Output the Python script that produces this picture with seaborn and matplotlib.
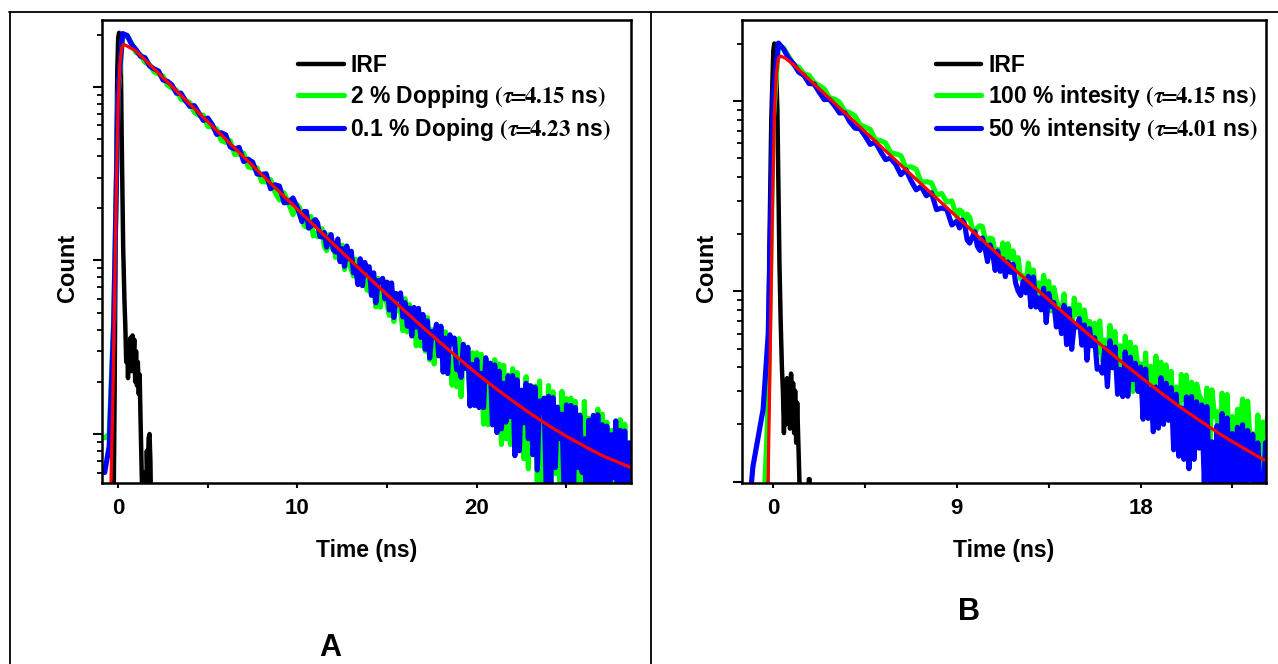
import matplotlib
matplotlib.use("Agg")
import matplotlib.pyplot as plt
import seaborn as sns
from matplotlib.lines import Line2D
from matplotlib.ticker import LogLocator, NullFormatter, MultipleLocator, FixedLocator

# ---------------- Panel A data (time in ns, counts) ----------------
time_a = [-0.75, -0.5, -0.25, 0.0, 0.25, 0.5, 0.75,
          1.0, 1.25, 1.5, 1.75, 2.0, 2.25, 2.5, 2.75, 3.0, 3.25, 3.5, 3.75,
          4.0, 4.25, 4.5, 4.75, 5.0, 5.25, 5.5, 5.75, 6.0, 6.25, 6.5, 6.75,
          7.0, 7.25, 7.5, 7.75, 8.0, 8.25, 8.5, 8.75, 9.0, 9.25, 9.5, 9.75,
          10.0, 10.125, 10.25, 10.375, 10.5, 10.625, 10.75, 10.875,
          11.0, 11.125, 11.25, 11.375, 11.5, 11.625, 11.75, 11.875,
          12.0, 12.125, 12.25, 12.375, 12.5, 12.625, 12.75, 12.875,
          13.0, 13.125, 13.25, 13.375, 13.5, 13.625, 13.75, 13.875,
          14.0, 14.125, 14.25, 14.375, 14.5, 14.625, 14.75, 14.875,
          15.0, 15.125, 15.25, 15.375, 15.5, 15.625, 15.75, 15.875,
          16.0, 16.125, 16.25, 16.375, 16.5, 16.625, 16.75, 16.875,
          17.0, 17.125, 17.25, 17.375, 17.5, 17.625, 17.75, 17.875,
          18.0, 18.125, 18.25, 18.375, 18.5, 18.625, 18.75, 18.875,
          19.0, 19.125, 19.25, 19.375, 19.5, 19.625, 19.75, 19.875,
          20.0, 20.125, 20.25, 20.375, 20.5, 20.625, 20.75, 20.875,
          21.0, 21.125, 21.25, 21.375, 21.5, 21.625, 21.75, 21.875,
          22.0, 22.125, 22.25, 22.375, 22.5, 22.625, 22.75, 22.875,
          23.0, 23.125, 23.25, 23.375, 23.5, 23.625, 23.75, 23.875,
          24.0, 24.125, 24.25, 24.375, 24.5, 24.625, 24.75, 24.875,
          25.0, 25.125, 25.25, 25.375, 25.5, 25.625, 25.75, 25.875,
          26.0, 26.125, 26.25, 26.375, 26.5, 26.625, 26.75, 26.875,
          27.0, 27.125, 27.25, 27.375, 27.5, 27.625, 27.75, 27.875,
          28.0, 28.125, 28.25, 28.375, 28.5]

green_a = [95, 100, 450, 9000, 19500, 19800, 17800,
           15760, 15310, 13870, 13480, 12210, 11870, 11540, 10230,
           9860, 9580, 8500, 8350, 8120, 7130, 6870, 6875,
           5920, 5880, 5720, 4915, 4790, 4895, 4085, 4100,
           4150, 3465, 3410, 3415, 2850, 2835, 2925, 2470,
           2230, 2455, 2140, 1835,
           2090, 2010, 1750, 1590, 1560, 1621, 1790, 1385,
           1440, 1369, 1450, 1523, 1200, 1140, 1410, 1191,
           1270, 1041, 1201, 1000, 1225, 886, 1103, 965,
           888, 813, 1015, 730, 950, 845, 940, 677,
           666, 656, 676, 540, 789, 538, 782, 621,
           560, 482, 692, 445, 645, 512, 514, 394,
           602, 387, 557, 377, 505, 322, 486, 322,
           403, 300, 468, 267, 399, 253, 405, 370,
           388, 227, 388, 235, 272, 191, 293, 187,
           354, 164, 304, 259, 313, 148, 294, 151,
           294, 167, 288, 114, 193, 113, 238, 113,
           268, 124, 253, 87, 249, 94, 219, 87,
           238, 155, 226, 91, 164, 72, 214, 63,
           179, 81, 189, 49, 202, 54, 129, 57,
           190, 39, 175, 59, 125, 51, 176, 38,
           160, 38, 161, 85, 154, 27, 129, 49,
           154, 51, 123, 24, 125, 28, 139, 34,
           130, 38, 117, 25, 105, 21, 102, 21,
           121, 26, 114, 48, 26]

blue_a = [60, 85, 420, 9500, 20300, 19800, 17600,
          16400, 15010, 14730, 13210, 12720, 12350, 10970, 10770,
          10260, 9200, 9210, 8350, 7720, 7805, 7080, 6410,
          6615, 6060, 5325, 5445, 5290, 4515, 4395, 4480,
          3715, 3835, 3690, 3150, 3130, 3160, 2590, 2730,
          2680, 2150, 2165, 2290,
          2010, 1837, 1675, 1915, 1915, 1535, 1575, 1675,
          1720, 1643, 1375, 1365, 1450, 1194, 1318, 1409,
          1150, 1120, 1330, 984, 1170, 925, 1211, 1021,
          1130, 849, 890, 726, 1023, 715, 975, 881,
          920, 629, 849, 570, 765, 755, 789, 602,
          750, 518, 742, 469, 645, 600, 650, 473,
          572, 418, 532, 367, 536, 413, 530, 360,
          488, 308, 448, 274, 390, 361, 429, 282,
          418, 228, 357, 223, 373, 332, 357, 235,
          239, 212, 329, 238, 316, 145, 252, 146,
          268, 142, 224, 142, 275, 208, 256, 113,
          250, 102, 230, 107, 196, 117, 216, 126,
          217, 75, 205, 80, 179, 116, 196, 94,
          190, 76, 186, 62, 155, 133, 161, 48,
          165, 50, 162, 64, 143, 94, 130, 44,
          147, 34, 146, 37, 142, 64, 128, 60,
          94, 33, 120, 24, 128, 50, 129, 42,
          113, 22, 111, 29, 99, 56, 119, 24,
          105, 30, 104, 33, 89]

fit_time_a = [-0.5, -0.4, -0.3, -0.2, -0.1, 0.0, 0.1, 0.2, 0.3, 0.5,
              1, 2, 3, 4, 5, 6, 7, 8, 9, 10, 11, 12, 13, 14, 15, 16, 17, 18, 19, 20,
              21, 22, 23, 24, 25, 26, 27, 28, 28.6]
fit_a = [20, 52, 150, 600, 2600, 8000, 13500, 16800, 17600, 17200,
         16080, 12720, 10060, 7960, 6300, 4990, 3950, 3130, 2480, 1970,
         1565, 1245, 992, 793, 635, 510, 411, 334, 272, 223,
         185, 155, 131, 112, 97, 85, 75, 68, 64]

irf_time_a = [-0.6, -0.25, -0.2, -0.15, -0.1, -0.05, 0.0, 0.05, 0.1, 0.15,
              0.2, 0.28, 0.35, 0.4, 0.45, 0.5, 0.55, 0.6, 0.65, 0.7,
              0.75, 0.8, 0.85, 0.9, 0.95, 1.0, 1.05, 1.1, 1.15, 1.2,
              1.25, 1.3, 1.35, 1.45, 1.5, 1.55, 1.6, 1.65, 1.7, 1.75,
              1.8, 1.85, 1.9, 2.5]
irf_a = [10, 40, 150, 900, 4000, 12000, 19000, 20500, 20000, 14000,
         5000, 1200, 600, 420, 260, 330, 210, 340, 250, 360,
         230, 370, 280, 350, 200, 300, 190, 260, 170, 220,
         120, 70, 40, 20, 60, 30, 80, 50, 95, 100,
         70, 30, 10, 10]

# ---------------- Panel B data ----------------
time_b = [-1.5, -1.25, -1.0, -0.75, -0.5, -0.25, 0.0, 0.25, 0.5, 0.75,
          1.0, 1.25, 1.5, 1.75, 2.0, 2.25, 2.5, 2.75, 3.0, 3.25, 3.5, 3.75,
          4.0, 4.25, 4.5, 4.75, 5.0, 5.25, 5.5, 5.75, 6.0, 6.25, 6.5, 6.75,
          7.0, 7.25, 7.5, 7.75, 8.0, 8.25, 8.5, 8.75,
          9.0, 9.125, 9.25, 9.375, 9.5, 9.625, 9.75, 9.875,
          10.0, 10.125, 10.25, 10.375, 10.5, 10.625, 10.75, 10.875,
          11.0, 11.125, 11.25, 11.375, 11.5, 11.625, 11.75, 11.875,
          12.0, 12.125, 12.25, 12.375, 12.5, 12.625, 12.75, 12.875,
          13.0, 13.125, 13.25, 13.375, 13.5, 13.625, 13.75, 13.875,
          14.0, 14.125, 14.25, 14.375, 14.5, 14.625, 14.75, 14.875,
          15.0, 15.125, 15.25, 15.375, 15.5, 15.625, 15.75, 15.875,
          16.0, 16.125, 16.25, 16.375, 16.5, 16.625, 16.75, 16.875,
          17.0, 17.125, 17.25, 17.375, 17.5, 17.625, 17.75, 17.875,
          18.0, 18.125, 18.25, 18.375, 18.5, 18.625, 18.75, 18.875,
          19.0, 19.125, 19.25, 19.375, 19.5, 19.625, 19.75, 19.875,
          20.0, 20.125, 20.25, 20.375, 20.5, 20.625, 20.75, 20.875,
          21.0, 21.125, 21.25, 21.375, 21.5, 21.625, 21.75, 21.875,
          22.0, 22.125, 22.25, 22.375, 22.5, 22.625, 22.75, 22.875,
          23.0, 23.125, 23.25, 23.375, 23.5, 23.625, 23.75, 23.875,
          24.0, 24.125, 24.25]

green_b = [50, 50, 50, 50, 60, 250, 8000, 19500, 19000, 17200,
           15510, 15070, 13940, 13680, 12550, 12075, 11605, 10440,
           10250, 9855, 8865, 8690, 8370, 7530, 7315, 7095,
           6275, 6210, 6030, 5375, 5280, 5170, 4485, 4520,
           4390, 3740, 3775, 3725, 3215, 3270, 2950, 2990,
           2463, 2681, 2630, 2351, 2550, 2456, 2140, 2019,
           2160, 2214, 2190, 1911, 1715, 1907, 1885, 1579,
           1660, 1441, 1800, 1360, 1780, 1480, 1633, 1353,
           1505, 1160, 1210, 1045, 1408, 1179, 1295, 951,
           1110, 905, 1215, 1020, 1130, 790, 1048, 895,
           828, 730, 970, 658, 815, 605, 922, 753,
           850, 548, 799, 621, 695, 574, 680, 475,
           700, 434, 555, 430, 663, 537, 615, 354,
           518, 337, 581, 421, 541, 298, 510, 392,
           416, 284, 475, 248, 404, 240, 457, 330,
           425, 206, 411, 280, 380, 192, 314, 175,
           366, 269, 363, 156, 333, 157, 326, 285,
           268, 125, 310, 129, 304, 220, 233, 104,
           292, 105, 287, 100, 220, 86, 240, 185,
           272, 81, 265, 161, 179, 85, 224, 80,
           206, 183, 224]

blue_b = [50, 60, 120, 170, 240, 600, 11000, 20200, 18800, 16800,
          15665, 14190, 13660, 12380, 12305, 11145, 10185, 10230,
          9470, 8660, 8690, 7790, 7210, 7165, 6555, 5925,
          6090, 5455, 4930, 5015, 4645, 4105, 4355, 3820,
          3420, 3560, 3185, 3300, 2690, 2745, 2700, 2235,
          2340, 2155, 2370, 2261, 1865, 1794, 1930, 2059,
          1730, 1642, 1910, 1695, 1435, 1754, 1590, 1289,
          1630, 1275, 1479, 1196, 1429, 1260, 1390, 1109,
          1005, 952, 1130, 983, 1200, 830, 1190, 827,
          925, 800, 1039, 686, 975, 834, 874, 650,
          795, 600, 845, 525, 808, 496, 672, 650,
          720, 522, 666, 435, 637, 518, 571, 390,
          398, 372, 504, 316, 550, 397, 510, 288,
          389, 280, 480, 281, 451, 344, 419, 298,
          400, 213, 391, 215, 307, 183, 315, 191,
          352, 200, 329, 210, 312, 147, 288, 136,
          244, 131, 279, 117, 280, 131, 263, 150,
          253, 99, 248, 101, 162, 84, 197, 82,
          228, 72, 216, 101, 179, 88, 193, 63,
          199, 59, 186, 102, 177, 70, 160, 83,
          72, 160, 65]

fit_time_b = [-0.35, -0.25, -0.15, -0.05, 0.05, 0.15, 0.25, 0.35, 0.6,
              1, 2, 3, 4, 5, 6, 7, 8, 9, 10, 11, 12, 13, 14, 15, 16,
              17, 18, 19, 20, 21, 22, 23, 24, 24.3]
fit_b = [50, 110, 500, 2500, 8500, 14000, 16800, 17250, 16800,
         15510, 12305, 9764, 7750, 6154, 4889, 3887, 3092, 2463, 1964,
         1568, 1255, 1007, 810, 654, 530, 432, 355, 293, 244,
         206, 175, 151, 131, 129]

irf_time_b = [-0.5, -0.3, -0.2, -0.1, 0.0, 0.05, 0.1, 0.2, 0.3, 0.36,
              0.42, 0.47, 0.52, 0.57, 0.62, 0.67, 0.72, 0.77, 0.82, 0.87,
              0.92, 0.97, 1.02, 1.07, 1.12, 1.17, 1.22, 1.28, 1.35, 1.7,
              1.74, 1.78, 1.82, 2.5]
irf_b = [50, 90, 1500, 8000, 18500, 20100, 19500, 9000, 1400, 700,
         400, 300, 180, 330, 200, 350, 230, 310, 190, 370,
         220, 330, 180, 300, 160, 260, 170, 100, 50, 50,
         103, 103, 50, 50]

labels_a = ["IRF",
            r"2 % Dopping $(\tau\!\!=\!\!4.15$ ns$)$",
            r"0.1 % Doping $(\tau\!\!=\!\!4.23$ ns$)$"]
labels_b = ["IRF",
            r"100 % intesity $(\tau\!\!=\!\!4.15$ ns$)$",
            r"50 % intensity $(\tau\!\!=\!\!4.01$ ns$)$"]

# ---------------- style ----------------
sns.set_style("white")
plt.rcParams["font.family"] = ["Liberation Sans", "DejaVu Sans"]
plt.rcParams["font.weight"] = "bold"
plt.rcParams["mathtext.fontset"] = "stix"
for key in ["text.color", "axes.labelcolor", "xtick.color", "ytick.color"]:
    plt.rcParams[key] = "black"

W, H = 1278, 664
fig = plt.figure(figsize=(W / 100, H / 100), dpi=100)

# table-like frame around the two panels
frame_kw = dict(transform=fig.transFigure, color="black", lw=1.3)
fig.add_artist(Line2D([9 / W, 1.0], [1 - 11.5 / H, 1 - 11.5 / H], **frame_kw))
fig.add_artist(Line2D([9.5 / W, 9.5 / W], [0, 1 - 11.5 / H], **frame_kw))
fig.add_artist(Line2D([650.5 / W, 650.5 / W], [0, 1 - 11.5 / H], **frame_kw))

ax_a = fig.add_axes([102 / W, 181 / H, 529 / W, 463 / H])
ax_b = fig.add_axes([741.5 / W, 181 / H, 524.5 / W, 463 / H])

panels = [
    (ax_a, time_a, green_a, blue_a, fit_time_a, fit_a, irf_time_a, irf_a,
     labels_a, (-0.9, 28.6), (52.2, 24300), [0, 10, 20], 5, -0.065),
    (ax_b, time_b, green_b, blue_b, fit_time_b, fit_b, irf_time_b, irf_b,
     labels_b, (-1.56, 24.15), (98.4, 26700), [0, 9, 18], 4.5, -0.066),
]

for (ax, t, g, b, ft, f, it, irf, labs, xlim, ylim, xt, minor, ylx) in panels:
    sns.lineplot(x=it, y=irf, ax=ax, color="black", linewidth=3.2,
                 label=labs[0], sort=False, estimator=None)
    sns.lineplot(x=t, y=g, ax=ax, color="#00ff00", linewidth=3.7,
                 label=labs[1], sort=False, estimator=None)
    sns.lineplot(x=t, y=b, ax=ax, color="#0000ff", linewidth=3.7,
                 label=labs[2], sort=False, estimator=None)
    sns.lineplot(x=ft, y=f, ax=ax, color="#ff0000", linewidth=2.3,
                 sort=False, estimator=None)

    ax.set_yscale("log")
    ax.set_xlim(*xlim)
    ax.set_ylim(*ylim)
    ax.xaxis.set_major_locator(FixedLocator(xt))
    ax.xaxis.set_minor_locator(MultipleLocator(minor))
    ax.yaxis.set_major_locator(LogLocator(base=10))
    ax.yaxis.set_minor_locator(LogLocator(base=10, subs=range(2, 10)))
    ax.yaxis.set_major_formatter(NullFormatter())
    ax.yaxis.set_minor_formatter(NullFormatter())

    for sp in ax.spines.values():
        sp.set_visible(True)
        sp.set_linewidth(1.8)
        sp.set_color("black")
    ax.tick_params(axis="x", which="both", direction="out", length=3.5,
                   width=1.5, labelsize=16, pad=7, bottom=True, colors="black")
    ax.tick_params(axis="y", which="major", direction="out", length=6.5,
                   width=1.5, left=True, colors="black")
    ax.tick_params(axis="y", which="minor", direction="out", length=3.6,
                   width=1.3, left=True, colors="black")
    for lab in ax.get_xticklabels():
        lab.set_fontweight("bold")

    ax.set_xlabel("Time (ns)", fontsize=16.5, fontweight="bold", va="center")
    ax.xaxis.set_label_coords(0.5, -0.145)
    ax.set_ylabel("Count", fontsize=17, fontweight="bold", va="center")
    ax.yaxis.set_label_coords(ylx, 0.464)

    handles, names = ax.get_legend_handles_labels()
    ax.legend(handles[:3], names[:3], loc="upper left",
              bbox_to_anchor=(0.37, 0.926), frameon=False,
              handlelength=2.0, handletextpad=0.3, labelspacing=0.25,
              borderpad=0.0, borderaxespad=0.0,
              prop={"weight": "bold", "size": 16.5})

fig.text(330 / W, 1 - 648 / H, "A", ha="center", va="center",
         fontsize=22, fontweight="bold")
fig.text(969 / W, 1 - 612 / H, "B", ha="center", va="center",
         fontsize=22, fontweight="bold")

fig.savefig("out.png", dpi=100)
